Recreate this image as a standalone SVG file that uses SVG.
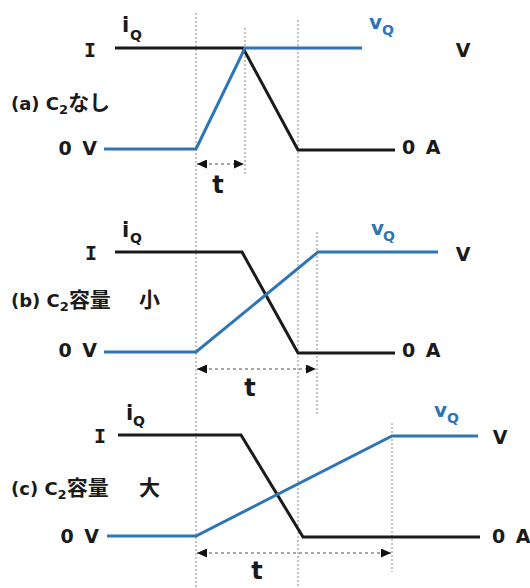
<svg xmlns="http://www.w3.org/2000/svg" width="530" height="588" viewBox="0 0 530 588">
<defs>
<style>
.t{font-family:"DejaVu Sans","Noto Sans CJK JP",sans-serif;font-weight:bold;font-size:19px;fill:#1a1a1a}
.lab{font-size:18px}
.cap{font-family:"DejaVu Sans Mono","DejaVu Sans",monospace;font-weight:bold;font-size:20px;fill:#1a1a1a}
.jp{font-family:"Noto Sans CJK JP",sans-serif;font-size:21px;font-weight:bold}
.sub{font-size:13px}
.subq{font-size:14px}
.iqt{font-size:21px}
.vqt{font-size:20px}
.blue{fill:#2e75b6}
.tt{font-size:24px}
.wave{fill:none;stroke-width:3;stroke-linejoin:miter}
.iq{stroke:#1a1a1a}
.vq{stroke:#2e75b6}
.guide{stroke:#888;stroke-width:1;stroke-dasharray:2 2;fill:none}
.span{stroke:#888;stroke-width:1.5;stroke-dasharray:3 3;fill:none}
</style>
<marker id="ah" markerWidth="10" markerHeight="9" refX="10" refY="4.5" orient="auto-start-reverse" markerUnits="userSpaceOnUse">
<path d="M0,0 L10,4.5 L0,9 z" fill="#111"/>
</marker>
</defs>
<rect width="530" height="588" fill="#fff"/>

<g id="guides">
<line class="guide" x1="196" y1="13" x2="196" y2="588"/>
<line class="guide" x1="298" y1="20" x2="298" y2="588"/>
<line class="guide" x1="245" y1="28" x2="245" y2="175"/>
<line class="guide" x1="317" y1="232" x2="317" y2="415"/>
<line class="guide" x1="392" y1="423" x2="392" y2="572"/>
</g>

<g id="connectors">
<line class="span" x1="197" y1="164" x2="244" y2="164" marker-start="url(#ah)" marker-end="url(#ah)"/>
<line class="span" x1="197" y1="369" x2="316" y2="369" marker-start="url(#ah)" marker-end="url(#ah)"/>
<line class="span" x1="197" y1="553" x2="391" y2="553" marker-start="url(#ah)" marker-end="url(#ah)"/>
</g>

<g id="panel-a">
<polyline class="wave iq" points="115,48 243,48 298,150 395,150"/>
<polyline class="wave vq" points="104,149 196,149 245,48 362,48"/>
<text class="cap" x="90" y="57" text-anchor="middle">I</text>
<text class="t iqt" x="122" y="32">i<tspan class="subq" x="130" y="40">Q</tspan></text>
<text class="t blue vqt" x="369" y="29">v<tspan class="subq" x="382" y="35">Q</tspan></text>
<text class="t" x="463" y="57" text-anchor="middle">V</text>
<text class="t" x="402" y="154" word-spacing="4">0 A</text>
<text class="t" x="97" y="155" text-anchor="end" word-spacing="4">0 V</text>
<text class="t lab" x="11" y="110">(a) C<tspan class="sub" dy="4">2</tspan><tspan class="jp" dy="-4">なし</tspan></text>
<text class="t tt" x="218" y="193" text-anchor="middle">t</text>
</g>

<g id="panel-b">
<polyline class="wave iq" points="115,252 242,252 298,353 395,353"/>
<polyline class="wave vq" points="104,352 196,352 318,252 438,252"/>
<text class="cap" x="91" y="260" text-anchor="middle">I</text>
<text class="t iqt" x="122" y="237">i<tspan class="subq" x="130" y="243">Q</tspan></text>
<text class="t blue vqt" x="371" y="235">v<tspan class="subq" x="383" y="241">Q</tspan></text>
<text class="t" x="463" y="261" text-anchor="middle">V</text>
<text class="t" x="402" y="357" word-spacing="4">0 A</text>
<text class="t" x="97" y="357" text-anchor="end" word-spacing="4">0 V</text>
<text class="t lab" x="11" y="307">(b) C<tspan class="sub" dy="4">2</tspan><tspan class="jp" dy="-4">容量　</tspan><tspan class="jp" x="139">小</tspan></text>
<text class="t tt" x="250" y="396" text-anchor="middle">t</text>
</g>

<g id="panel-c">
<polyline class="wave iq" points="118,435 241,435 303,537 480,537"/>
<polyline class="wave vq" points="107,536 196,536 392,436 478,436"/>
<text class="cap" x="100" y="443" text-anchor="middle">I</text>
<text class="t iqt" x="126" y="420">i<tspan class="subq" x="133" y="426">Q</tspan></text>
<text class="t blue vqt" x="434" y="417">v<tspan class="subq" x="447" y="423">Q</tspan></text>
<text class="t" x="500" y="444" text-anchor="middle">V</text>
<text class="t" x="492" y="543" word-spacing="4">0 A</text>
<text class="t" x="99" y="543" text-anchor="end" word-spacing="4">0 V</text>
<text class="t lab" x="11" y="495">(c) C<tspan class="sub" dy="4">2</tspan><tspan class="jp" dy="-4">容量　</tspan><tspan class="jp" x="139">大</tspan></text>
<text class="t tt" x="257" y="579" text-anchor="middle">t</text>
</g>
</svg>
